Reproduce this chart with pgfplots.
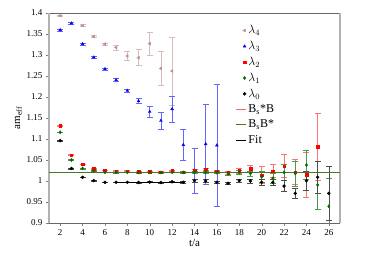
\documentclass[border=0pt]{standalone}
\usepackage{pgfplots}
\pgfplotsset{compat=1.18}
\usepackage{fontspec}
\setmainfont{Liberation Serif}
\definecolor{rb}{RGB}{188,143,143}
\definecolor{dg}{RGB}{0,110,0}
\definecolor{lg}{RGB}{70,120,40}
\pgfplotsset{shortline/.style={legend image code/.code={\draw[##1] (0cm,0cm) -- (0.35cm,0cm);}}}
\begin{document}
\begin{tikzpicture}
\useasboundingbox (-49pt,-42pt) rectangle (325pt,223pt);
\begin{axis}[
  at={(0,0)}, anchor=south west,
  scale only axis, width=291pt, height=210pt,
  xmin=1, xmax=27, ymin=0.9, ymax=1.4,
  xtick={2,4,...,26},
  ytick={0.9,0.95,...,1.41},
  yticklabels={0.9,0.95,1,1.05,1.1,1.15,1.2,1.25,1.3,1.35,1.4},
  xtick pos=left, ytick pos=left, tick align=outside,
  major tick length=3pt,
  /pgf/number format/assume math mode=true,
  tick label style={font=\fontsize{9}{10}\selectfont},
  separate axis lines,
  x axis line style={draw=black!60, line width=0.6pt},
  y axis line style={draw=gray!60, line width=2pt},
  xlabel={t/a}, ylabel={am$_{\mathrm{eff}}$},
  label style={font=\fontsize{11}{12}\selectfont},
  xlabel style={yshift=3pt},
  ylabel style={yshift=-2pt},
  legend style={draw=none, fill=none, at={(rel axis cs:0.63,0.96)}, anchor=north west,
    font=\fontsize{12}{13}\selectfont, row sep=2pt},
  legend cell align=left,
  error bars/error bar style={line width=0.6pt},
  error bars/error mark options={rotate=90, mark size=3pt, line width=0.6pt},
]
\addplot[only marks, mark=triangle*, mark options={rotate=90, fill=rb, draw=rb}, mark size=1.7pt,
  error bars/.cd, y dir=both, y explicit, error bar style={color=rb!60}]
  table[x=x, y=y, y error=e] {
x y e
2 1.3936 0.002
4 1.370 0.002
5 1.344 0.002
6 1.326 0.003
7 1.318 0.006
8 1.2976 0.0107
9 1.2936 0.019
10 1.327 0.027
11 1.268 0.041
12 1.262 0.081
};
\addlegendentry{$\lambda_4$}
\addplot[only marks, mark=triangle*, mark options={fill=blue, draw=blue}, mark size=1.6pt,
  error bars/.cd, y dir=both, y explicit, error bar style={color=blue!60}]
  table[x=x, y=y, y error=e] {
x y e
2 1.3595 0.002
3 1.3755 0.002
4 1.326 0.002
5 1.2945 0.002
6 1.2667 0.002
7 1.2405 0.003
8 1.215 0.004
9 1.1905 0.006
10 1.165 0.0127
11 1.1436 0.021
12 1.1714 0.031
13 1.086 0.037
14 1.025 0.054
15 1.088 0.095
16 1.085 0.145
};
\addlegendentry{$\lambda_3$}
\addplot[only marks, mark=square*, mark options={fill=red, draw=red}, mark size=1.3pt,
  error bars/.cd, y dir=both, y explicit, error bar style={color=red!55}]
  table[x=x, y=y, y error=e] {
x y e
2 1.1317 0.001
3 1.0619 0.001
4 1.0398 0.001
5 1.030 0.001
6 1.0255 0.001
7 1.0238 0.001
8 1.0238 0.001
9 1.0222 0.001
10 1.0222 0.001
11 1.021 0.001
12 1.024 0.001
13 1.021 0.002
14 1.026 0.002
15 1.0278 0.002
16 1.0238 0.002
17 1.020 0.004
18 1.0245 0.005
19 1.029 0.008
20 1.014 0.02
21 1.0238 0.016
22 1.0357 0.028
23 1.021 0.03
24 1.0143 0.054
25 1.0817 0.079
};
\addlegendentry{$\lambda_2$}
\addplot[only marks, mark=diamond*, mark options={fill=dg, draw=dg}, mark size=1.6pt,
  error bars/.cd, y dir=both, y explicit, error bar style={color=dg!70}]
  table[x=x, y=y, y error=e] {
x y e
2 1.116 0.001
3 1.05 0.001
4 1.030 0.001
5 1.0241 0.001
6 1.0207 0.001
7 1.0205 0.001
8 1.0207 0.001
9 1.0205 0.001
10 1.0207 0.001
11 1.0203 0.001
12 1.0209 0.001
13 1.0205 0.002
14 1.021 0.002
15 1.021 0.002
16 1.020 0.002
17 1.0174 0.003
18 1.0207 0.004
19 1.018 0.006
20 1.010 0.012
21 1.0064 0.012
22 1.0207 0.02
23 1.018 0.03
24 1.038 0.035
25 0.9905 0.057
26 0.9398 0.067
};
\addlegendentry{$\lambda_1$}
\addplot[only marks, mark=*, mark options={fill=black, draw=black}, mark size=1.5pt,
  error bars/.cd, y dir=both, y explicit, error bar style={color=black!70}]
  table[x=x, y=y, y error=e] {
x y e
2 1.096 0.001
3 1.030 0.001
4 1.0088 0.001
5 1.0008 0.001
6 0.9969 0.001
7 0.9969 0.001
8 0.9969 0.001
9 0.9965 0.001
10 0.9972 0.001
11 0.9965 0.001
12 0.998 0.001
13 0.997 0.002
14 1.0008 0.003
15 1.0 0.003
16 0.997 0.003
17 0.9945 0.003
18 1.0008 0.004
19 1.0 0.005
20 0.997 0.008
21 0.997 0.008
22 0.988 0.0127
23 0.9707 0.013
24 1.0008 0.022
25 1.0088 0.038
26 0.9707 0.065
};
\addlegendentry{$\lambda_0$}
\addplot[color=red!60, line width=0.8pt, shortline] coordinates {(1,1.0212) (27,1.0212)};
\addlegendentry{B$_{\mathrm{s}}$*B}
\addplot[color=lg, line width=0.8pt, shortline] coordinates {(1,1.0207) (27,1.0207)};
\addlegendentry{B$_{\mathrm{s}}$B*}
\addplot[color=black, line width=1pt, shortline] coordinates {(7,0.9969) (13,0.9969)};
\addlegendentry{Fit}
\end{axis}
\end{tikzpicture}
\end{document}
